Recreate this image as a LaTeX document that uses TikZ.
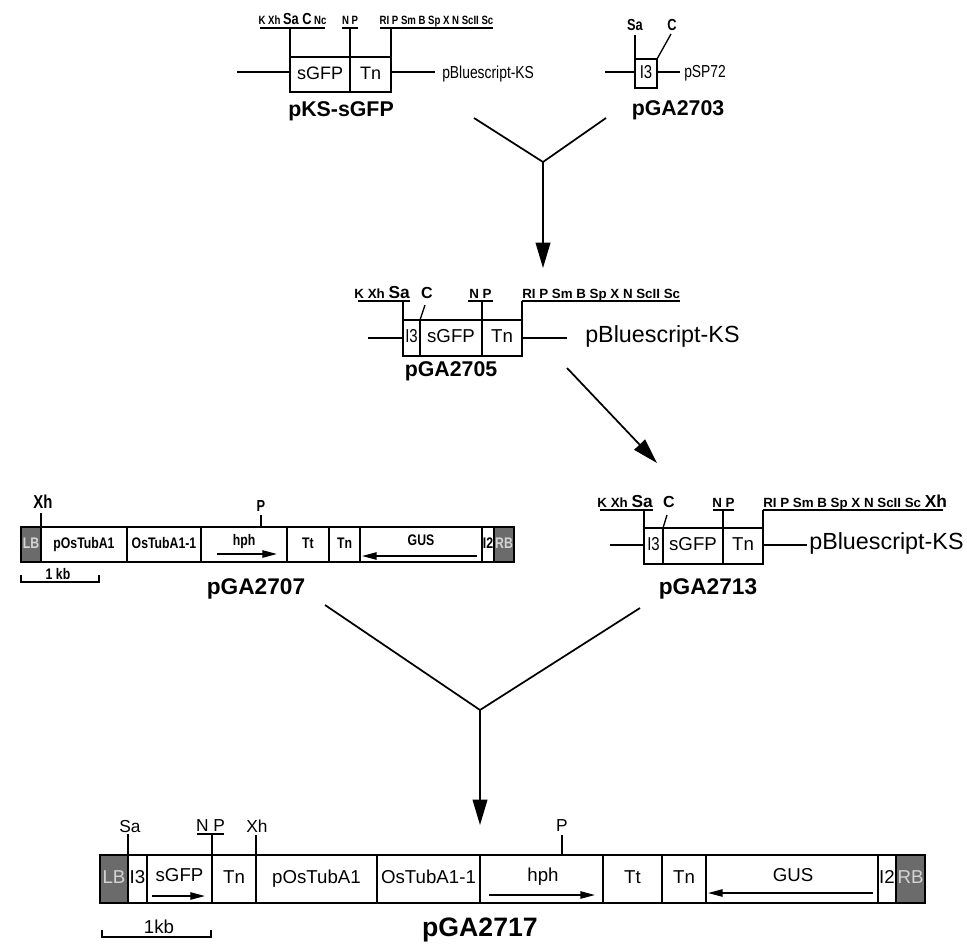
\documentclass[tikz,border=0pt]{standalone}
\usepackage{fontspec}
\setmainfont{Liberation Sans}
\newfontfamily\condfont[FakeStretch=0.8]{Liberation Sans}
\usetikzlibrary{arrows.meta}
\definecolor{bordergrey}{HTML}{6B6B6B}
\definecolor{paleletter}{HTML}{D4D4D4}
\newcommand{\fsz}[1]{\fontsize{#1}{#1}\selectfont}
\tikzset{
  dna/.style={line width=1.3pt},
  part/.style={draw, line width=1.3pt},
  border/.style={draw, line width=1.3pt, fill=bordergrey},
  site/.style={line width=1pt},
  orf/.style={line width=1.2pt, -{Triangle[length=11pt,width=5.5pt]}},
  merge/.style={line width=1.3pt},
  goes/.style={line width=1.3pt, -{Triangle[length=19pt,width=11pt]}},
  enz/.style={inner sep=0pt, anchor=base},
  inbox/.style={inner sep=0pt, anchor=mid},
  title/.style={inner sep=0pt, anchor=mid, font=\bfseries},
  leftpart/.style={inbox, font={\condfont\bfseries\fsz{11.5}}},
  lowpart/.style={inbox, font={\fsz{14}}},
}
\begin{document}
\begin{tikzpicture}[x=0.75pt,y=-0.75pt]
\useasboundingbox (0,0) rectangle (967,949);

% pKS-sGFP
\draw[dna] (237,72) -- (290,72);
\draw[dna] (391,72) -- (435,72);
\draw[part] (290,57) rectangle (350,92);
\draw[part] (350,57) rectangle (391,92);
\node[inbox] (ksgfp) at (320,76) {\fsz{13.5}sGFP};
\node[inbox] (kstn) at (370.5,76) {\fsz{13.5}Tn};
\draw[site] (260,28) -- (325,28) (342,28) -- (358,28) (380,28) -- (493,28);
\draw[site] (290,28) -- (290,57) (350,28) -- (350,57) (391,28) -- (391,57);
\node[enz] (kssa) at (292.5,25) {\condfont\bfseries\fsz{9}K Xh {\fsz{12}Sa C} Nc};
\node[enz] (ksnp) at (350,25) {\condfont\bfseries\fsz{9}N P};
\node[enz] (ksri) at (436.5,25) {\condfont\bfseries\fsz{9}RI P Sm B Sp X N ScII Sc};
\node[inbox, anchor=mid west] (ksvec) at (442,75) {\condfont\fsz{13}pBluescript-KS};
\node[title] (ks) at (341,113) {\fsz{16}pKS-sGFP};

% pGA2703
\draw[dna] (605,72) -- (635,72);
\draw[dna] (657,72) -- (680,72);
\draw[part] (635,59) rectangle (657,88);
\node[inbox] (gi3) at (646,74.5) {\condfont\fsz{14}I3};
\draw[site] (635,35) -- (635,59);
\draw[site] (657,59) -- (671,34);
\node[inbox] (gsa) at (635,27) {\condfont\bfseries\fsz{12}Sa};
\node[inbox] (gc) at (672,27) {\condfont\bfseries\fsz{12}C};
\node[inbox, anchor=mid west] (gvec) at (684,74) {\condfont\fsz{13}pSP72};
\node[title] (g03) at (678,112) {\fsz{16}pGA2703};

% merge one
\coordinate (ksarm) at (474,118);
\coordinate (g03arm) at (606,118);
\coordinate (y1) at (543,162);
\coordinate (g05top) at (543,268);
\draw[merge] (ksarm) -- (y1) -- (g03arm);
\draw[goes] (y1) -- (g05top);

% pGA2705
\draw[dna] (368,338) -- (403,338);
\draw[dna] (522,338) -- (567,338);
\draw[part] (403,320) rectangle (420,356);
\draw[part] (420,320) rectangle (482,356);
\draw[part] (482,320) rectangle (522,356);
\node[inbox] (bi3) at (411.5,339) {\condfont\fsz{14}I3};
\node[inbox] (bgfp) at (451,339) {\fsz{14}sGFP};
\node[inbox] (btn) at (502,339) {\fsz{14}Tn};
\draw[site] (358,301) -- (410,301) (468,301) -- (493,301) (522,301) -- (680,301);
\draw[site] (403,301) -- (403,320) (482,301) -- (482,320) (522,301) -- (522,320);
\draw[site] (420,320) -- (425,305);
\node[enz, anchor=base east] (bsa) at (410,298) {\bfseries\fsz{10}K Xh \fsz{13}Sa};
\node[enz] (bc) at (427,298) {\bfseries\fsz{12}C};
\node[enz] (bnp) at (480.5,298) {\bfseries\fsz{10}N P};
\node[enz, anchor=base west] (bri) at (522,298) {\bfseries\fsz{10}RI P Sm B Sp X N ScII Sc};
\node[inbox, anchor=mid west] (bvec) at (585,339) {\fsz{17.5}pBluescript-KS};
\node[title] (g05) at (451,373) {\fsz{16}pGA2705};

% on to pGA2713
\coordinate (g05arm) at (567,368);
\coordinate (g13top) at (657,463);
\draw[goes] (g05arm) -- (g13top);

% pGA2713
\draw[dna] (610,545) -- (644,545);
\draw[dna] (763,545) -- (807,545);
\draw[part] (644,528) rectangle (663,564);
\draw[part] (663,528) rectangle (723,564);
\draw[part] (723,528) rectangle (763,564);
\node[inbox] (ci3) at (653.5,547) {\condfont\fsz{14}I3};
\node[inbox] (cgfp) at (693,547) {\fsz{14}sGFP};
\node[inbox] (ctn) at (743,547) {\fsz{14}Tn};
\draw[site] (600,510) -- (653,510) (713,510) -- (734,510) (763,510) -- (943,510);
\draw[site] (644,510) -- (644,528) (723,510) -- (723,528) (763,510) -- (763,528);
\draw[site] (663,528) -- (667,515);
\node[enz, anchor=base east] (csa) at (653,507) {\bfseries\fsz{10}K Xh \fsz{13}Sa};
\node[enz] (cc) at (669,507) {\bfseries\fsz{12}C};
\node[enz] (cnp) at (723.5,507) {\bfseries\fsz{10}N P};
\node[enz, anchor=base west] (cri) at (763,507) {\bfseries\fsz{10}RI P Sm B Sp X N ScII Sc \fsz{13}Xh};
\node[inbox, anchor=mid west] (cvec) at (809,546) {\fsz{17.5}pBluescript-KS};
\node[title] (g13) at (708,591) {\fsz{17}pGA2713};

% pGA2707
\draw[border] (21,527) rectangle (41,562);
\draw[border] (494,527) rectangle (514,562);
\foreach \xa/\xb in {41/127, 127/201, 201/287, 287/329, 329/360, 360/482, 482/494}
  \draw[part] (\xa,527) rectangle (\xb,562);
\node[leftpart, text=paleletter] (alb) at (31,545) {LB};
\node[leftpart] (aprom) at (84,545) {pOsTubA1};
\node[leftpart] (atub) at (164,545) {OsTubA1-1};
\node[leftpart] (ahph) at (244,542) {hph};
\node[leftpart] (att) at (308,545) {Tt};
\node[leftpart] (atn) at (344.5,545) {Tn};
\node[leftpart] (agus) at (421,542) {GUS};
\node[leftpart] (ai2) at (488,545) {I2};
\node[leftpart, text=paleletter] (arb) at (504,545) {RB};
\draw[orf] (217,554) -- (277,554);
\draw[orf] (477,556) -- (362,556);
\draw[site] (41,513) -- (41,527);
\node[inbox] (axh) at (43,505) {\condfont\bfseries\fsz{14}Xh};
\draw[site] (261,515) -- (261,527);
\node[inbox] (ap) at (261,508) {\condfont\bfseries\fsz{12}P};
\draw[site] (21,575) -- (21,582) -- (99,582) -- (99,575);
\node[enz] (akb) at (58,579) {\condfont\bfseries\fsz{11.5}1 kb};
\node[title] (g07) at (256,591) {\fsz{17}pGA2707};

% merge two
\coordinate (g07arm) at (325,605);
\coordinate (g13arm) at (640,608);
\coordinate (y2) at (480,710);
\coordinate (g17top) at (480,825);
\draw[merge] (g07arm) -- (y2) -- (g13arm);
\draw[goes] (y2) -- (g17top);

% pGA2717
\draw[border] (100,855) rectangle (128,903);
\draw[border] (896,855) rectangle (925,903);
\foreach \xa/\xb in {128/147, 147/212, 212/256, 256/377, 377/480, 480/603, 603/662, 662/706, 706/878, 878/896}
  \draw[part] (\xa,855) rectangle (\xb,903);
\node[lowpart, text=paleletter] (dlb) at (114,880) {LB};
\node[lowpart] (di3) at (137.5,880) {I3};
\node[lowpart] (dgfp) at (179.5,878) {sGFP};
\node[lowpart] (dtn) at (234,880) {Tn};
\node[lowpart] (dprom) at (316.5,880) {pOsTubA1};
\node[lowpart] (dtub) at (428.5,880) {OsTubA1-1};
\node[lowpart] (dhph) at (543,878) {hph};
\node[lowpart] (dtt) at (632.5,880) {Tt};
\node[lowpart] (dtn2) at (684,880) {Tn};
\node[lowpart] (dgus) at (793,878) {GUS};
\node[lowpart] (di2) at (887,880) {I2};
\node[lowpart, text=paleletter] (drb) at (910.5,880) {RB};
\draw[orf] (152,896) -- (205,896);
\draw[orf] (489,895) -- (595,895);
\draw[orf] (873,893) -- (708,893);
\draw[site] (128,834) -- (128,855);
\node[enz] (dsa) at (130,832) {\fsz{13}Sa};
\draw[site] (197,834) -- (224,834) (212,834) -- (212,855);
\node[enz] (dnp) at (210.5,831) {\fsz{13}N P};
\draw[site] (256,835) -- (256,855);
\node[enz] (dxh) at (257,832) {\fsz{13}Xh};
\draw[site] (562,835) -- (562,855);
\node[enz] (dp) at (562,831) {\fsz{13}P};
\draw[site] (102,930) -- (102,937) -- (211,937) -- (211,930);
\node[enz] (dkb) at (159,933) {\fsz{14}1kb};
\node[title] (g17) at (480,933) {\fsz{20}pGA2717};
\end{tikzpicture}
\end{document}
